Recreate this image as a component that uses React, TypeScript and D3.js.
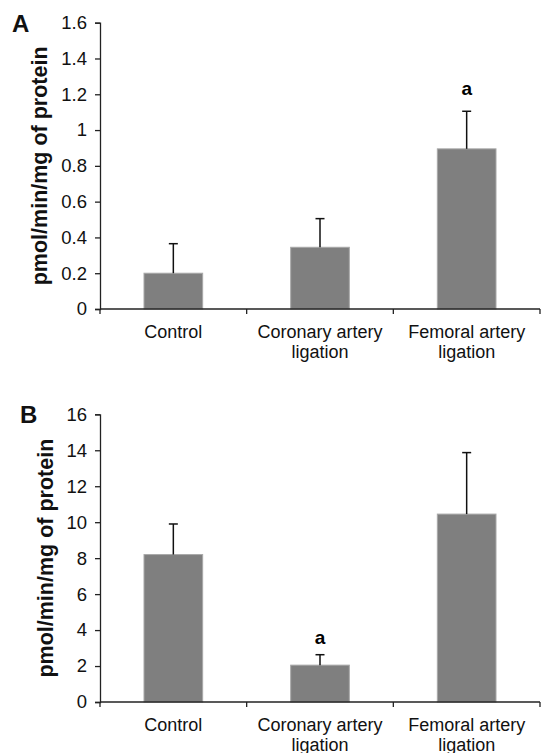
import { useRef, useEffect } from "react";
import * as d3 from "d3";

// groups on the x axis (split into the two printed lines)
const categories = ["Control", "Coronary artery ligation", "Femoral artery ligation"];
const categoryLines = [["Control"], ["Coronary artery", "ligation"], ["Femoral artery", "ligation"]];

// panel A
const meansA = [0.2, 0.345, 0.895];
const errorsA = [0.165, 0.16, 0.21];
const marksA = ["", "", "a"];
const ticksA = [0, 0.2, 0.4, 0.6, 0.8, 1, 1.2, 1.4, 1.6];
const tickLabelsA = ["0", "0.2", "0.4", "0.6", "0.8", "1", "1.2", "1.4", "1.6"];

// panel B
const meansB = [8.2, 2.05, 10.45];
const errorsB = [1.7, 0.58, 3.42];
const marksB = ["", "a", ""];
const ticksB = [0, 2, 4, 6, 8, 10, 12, 14, 16];
const tickLabelsB = ["0", "2", "4", "6", "8", "10", "12", "14", "16"];

const yTitle = "pmol/min/mg of protein";
const FONT = "'Liberation Sans', Arial, Helvetica, sans-serif";

export default function App() {
  const ref = useRef<SVGSVGElement>(null);

  useEffect(() => {
    const svg = d3.select(ref.current);
    svg.selectAll("*").remove();

    const panels = [
      {
        letter: "A", letterX: 12, letterY: 32,
        means: meansA, errors: errorsA, marks: marksA,
        ticks: ticksA, labels: tickLabelsA, max: 1.6,
        top: 22.7, bottom: 309, titleX: 47, markGap: 16.5,
      },
      {
        letter: "B", letterX: 20, letterY: 423,
        means: meansB, errors: errorsB, marks: marksB,
        ticks: ticksB, labels: tickLabelsB, max: 16,
        top: 414.3, bottom: 702, titleX: 53, markGap: 11,
      },
    ];

    panels.forEach((p) => {
      const g = svg.append("g");

      const x = d3
        .scaleBand<string>()
        .domain(categories)
        .range([100, 540])
        .paddingInner(0.6)
        .paddingOuter(0.3);

      const y = d3.scaleLinear().domain([0, p.max]).range([p.bottom, p.top]);

      // bars
      g.selectAll("rect.bar")
        .data(p.means)
        .join("rect")
        .attr("class", "bar")
        .attr("x", (d, i) => x(categories[i])!)
        .attr("y", (d) => y(d))
        .attr("width", x.bandwidth())
        .attr("height", (d) => y(0) - y(d))
        .attr("fill", "#7f7f7f")
        .attr("stroke", "#a8a8a8")
        .attr("stroke-width", 1);

      // error bars (upper half only)
      const cx = (i: number) => x(categories[i])! + x.bandwidth() / 2;
      g.selectAll("line.err")
        .data(p.means)
        .join("line")
        .attr("class", "err")
        .attr("x1", (d, i) => cx(i))
        .attr("x2", (d, i) => cx(i))
        .attr("y1", (d) => y(d))
        .attr("y2", (d, i) => y(d + p.errors[i]))
        .attr("stroke", "#111")
        .attr("stroke-width", 1.5);
      g.selectAll("line.cap")
        .data(p.means)
        .join("line")
        .attr("class", "cap")
        .attr("x1", (d, i) => cx(i) - 4.5)
        .attr("x2", (d, i) => cx(i) + 4.5)
        .attr("y1", (d, i) => y(d + p.errors[i]))
        .attr("y2", (d, i) => y(d + p.errors[i]))
        .attr("stroke", "#111")
        .attr("stroke-width", 1.5);

      // significance letters
      g.selectAll("text.mark")
        .data(p.marks)
        .join("text")
        .attr("class", "mark")
        .attr("x", (d, i) => cx(i))
        .attr("y", (d, i) => y(p.means[i] + p.errors[i]) - p.markGap)
        .attr("text-anchor", "middle")
        .attr("font-family", FONT)
        .attr("font-weight", "bold")
        .attr("font-size", 19)
        .text((d) => d);

      // y axis
      const yAxis = g
        .append("g")
        .attr("transform", "translate(100,0)")
        .call(
          d3
            .axisLeft(y)
            .tickValues(p.ticks)
            .tickFormat((d, i) => p.labels[i])
            .tickSize(5)
            .tickPadding(8)
        );
      yAxis.select(".domain").attr("stroke", "#222").attr("stroke-width", 1.3);
      yAxis.selectAll(".tick line").attr("stroke", "#222").attr("stroke-width", 1.3);
      yAxis
        .selectAll(".tick text")
        .attr("font-family", FONT)
        .attr("font-size", 18.5)
        .attr("fill", "#111");

      // x axis with ticks on band edges
      const [x0, x1] = x.range();
      g.append("line")
        .attr("x1", x0)
        .attr("x2", x1)
        .attr("y1", y(0))
        .attr("y2", y(0))
        .attr("stroke", "#222")
        .attr("stroke-width", 1.3);
      g.selectAll("line.xtick")
        .data(d3.range(categories.length + 1))
        .join("line")
        .attr("class", "xtick")
        .attr("x1", (i) => x0 + i * x.step())
        .attr("x2", (i) => x0 + i * x.step())
        .attr("y1", y(0))
        .attr("y2", y(0) + 5)
        .attr("stroke", "#222")
        .attr("stroke-width", 1.3);

      // category labels
      categoryLines.forEach((lines, i) => {
        const t = g
          .append("text")
          .attr("text-anchor", "middle")
          .attr("font-family", FONT)
          .attr("font-size", 18)
          .attr("fill", "#111");
        lines.forEach((line, j) => {
          t.append("tspan")
            .attr("x", cx(i))
            .attr("y", y(0) + 28.5 + j * 20.5)
            .text(line);
        });
      });

      // y title
      g.append("text")
        .attr("transform", `translate(${p.titleX},${(p.top + p.bottom) / 2}) rotate(-90)`)
        .attr("text-anchor", "middle")
        .attr("font-family", FONT)
        .attr("font-weight", "bold")
        .attr("font-size", 21.5)
        .attr("fill", "#111")
        .text(yTitle);

      // panel letter
      g.append("text")
        .attr("x", p.letterX)
        .attr("y", p.letterY)
        .attr("font-family", FONT)
        .attr("font-weight", "bold")
        .attr("font-size", 24)
        .attr("fill", "#111")
        .text(p.letter);
    });
  }, []);

  return (
    <svg
      ref={ref}
      width={541}
      height={753}
      style={{ position: "absolute", left: 0, top: 0, background: "#fff" }}
    />
  );
}
